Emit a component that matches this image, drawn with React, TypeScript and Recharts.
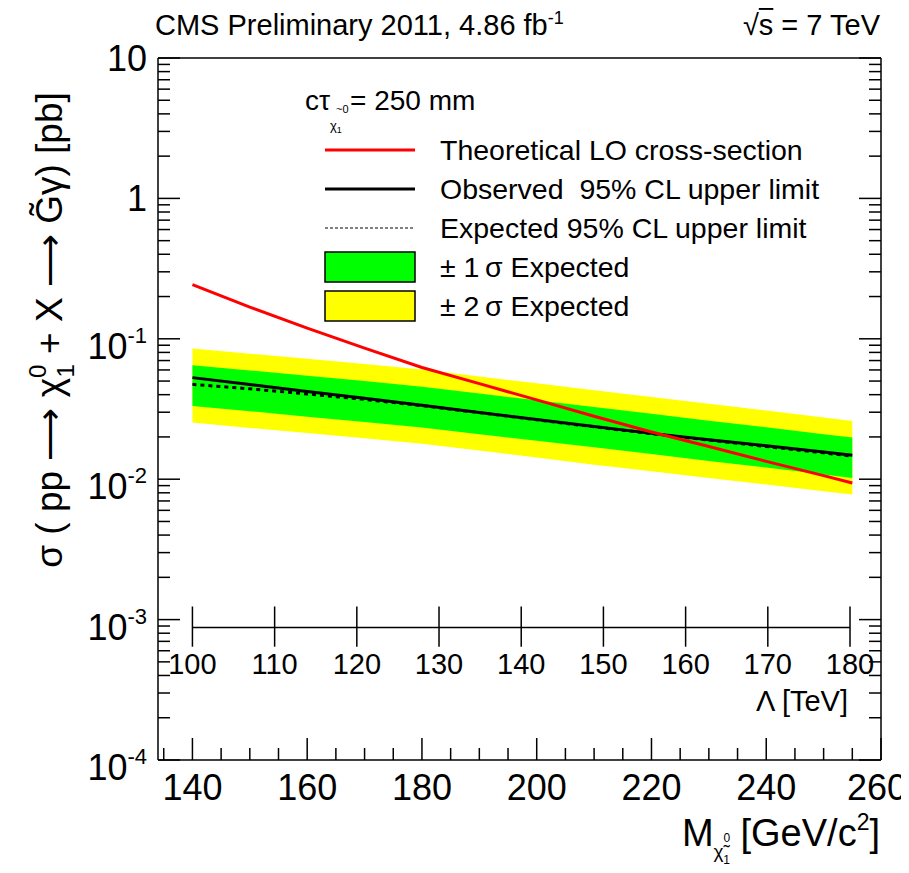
import React from "react";
import {
  ComposedChart, Area, Line, XAxis, YAxis, ReferenceLine, Legend,
} from "recharts";

// neutralino mass [GeV/c^2]
const massPoints = [140, 150, 160, 170, 180, 190, 200, 210, 220, 230, 240, 250, 255];
// cross sections [pb]
const theory = [0.243, 0.168, 0.119, 0.0859, 0.0625, 0.0479, 0.0367, 0.0281, 0.0217, 0.0171, 0.0134, 0.0106, 0.0094];
const observed = [0.0529, 0.0472, 0.0421, 0.0377, 0.0336, 0.0299, 0.0266, 0.0237, 0.0212, 0.0191, 0.0173, 0.0156, 0.0148];
const expected = [0.0474, 0.044, 0.0405, 0.037, 0.0334, 0.0298, 0.0265, 0.0236, 0.0211, 0.019, 0.0171, 0.0154, 0.0146];
const oneSigmaUp = [0.0649, 0.0595, 0.0545, 0.05, 0.0455, 0.0407, 0.0365, 0.0327, 0.0292, 0.0261, 0.0234, 0.0209, 0.0198];
const oneSigmaDown = [0.0332, 0.0305, 0.0279, 0.0255, 0.0233, 0.0209, 0.0188, 0.0169, 0.0151, 0.0135, 0.0121, 0.0108, 0.0102];
const twoSigmaUp = [0.0853, 0.0784, 0.072, 0.0662, 0.0604, 0.0539, 0.0482, 0.043, 0.0385, 0.0344, 0.0308, 0.0275, 0.026];
const twoSigmaDown = [0.0253, 0.0232, 0.0213, 0.0196, 0.0179, 0.016, 0.0143, 0.0127, 0.0114, 0.0102, 0.00916, 0.00822, 0.00778];

// axes
const xMajorTicks = [140, 160, 180, 200, 220, 240, 260];
const xMinorTicks = [135, 145, 150, 155, 165, 170, 175, 185, 190, 195, 205, 210, 215, 225, 230, 235, 245, 250, 255];
const yDecades = [1e-4, 1e-3, 1e-2, 1e-1, 1, 10];
const yMinorSteps = [2, 3, 4, 5, 6, 7, 8, 9];
const lambdaTicks = [100, 110, 120, 130, 140, 150, 160, 170, 180];
// Lambda [TeV] -> neutralino mass [GeV/c^2]: 100 TeV sits at 140, 180 TeV at 254.6
const lambdaToMass = (l: number) => 140 + ((l - 100) * (254.6 - 140)) / 80;

const LEGEND_ENTRIES = [
  { label: "Theoretical LO cross-section", kind: "line", color: "#ff0000", width: 3, dash: "" },
  { label: "Observed  95% CL upper limit", kind: "line", color: "#000000", width: 3, dash: "" },
  { label: "Expected 95% CL upper limit", kind: "line", color: "#000000", width: 1, dash: "3 2" },
  { label: "\u00b1 1\u2009\u03c3 Expected", kind: "box", color: "#00ff00" },
  { label: "\u00b1 2\u2009\u03c3 Expected", kind: "box", color: "#ffff00" },
];

const W = 893;
const H = 857;
const PLOT = { l: 150, t: 50, r: 873, b: 752 };
const FONT = '"Liberation Sans", Arial, Helvetica, sans-serif';
const LAMBDA_Y = 8.77e-4;
const LAMBDA_TICK_TOP = 1.24e-3;
const LAMBDA_TICK_BOT = 6.41e-4;

const data = massPoints.map((m, i) => ({
  m,
  theory: theory[i],
  observed: observed[i],
  expected: expected[i],
  band1: [oneSigmaDown[i], oneSigmaUp[i]],
  band2: [twoSigmaDown[i], twoSigmaUp[i]],
}));

const yTicks = [
  ...yDecades,
  ...yDecades.slice(0, -1).flatMap((d) => yMinorSteps.map((s) => +(d * s).toPrecision(3))),
].sort((a, b) => a - b);
const xTicks = [...xMajorTicks, ...xMinorTicks].sort((a, b) => a - b);

const isDecade = (v: number) => Math.abs(Math.log10(v) - Math.round(Math.log10(v))) < 1e-6;

function LeftTick(props: any) {
  const v = props.payload.value;
  const y = props.payload.coordinate;
  const major = isDecade(v);
  const exp = Math.round(Math.log10(v));
  return (
    <g>
      <line x1={PLOT.l} x2={PLOT.l + (major ? 22 : 12)} y1={y} y2={y} stroke="#000" strokeWidth={1.5} />
      {major && exp >= 0 && (
        <text x={139} y={y + 13} textAnchor="end" fontSize={36} fill="#000">
          {exp === 0 ? "1" : "10"}
        </text>
      )}
      {major && exp < 0 && (
        <text x={139} y={y + 20} textAnchor="end" fontSize={36} fill="#000">
          10<tspan fontSize={22} dy={-16}>{String(exp)}</tspan>
        </text>
      )}
    </g>
  );
}

function RightTick(props: any) {
  const y = props.payload.coordinate;
  const major = isDecade(props.payload.value);
  return <line x1={PLOT.r} x2={PLOT.r - (major ? 22 : 12)} y1={y} y2={y} stroke="#000" strokeWidth={1.5} />;
}

function BottomTick(props: any) {
  const x = props.payload.coordinate;
  const v = props.payload.value;
  const major = xMajorTicks.includes(v);
  return (
    <g>
      <line x1={x} x2={x} y1={PLOT.b} y2={PLOT.b - (major ? 22 : 12)} stroke="#000" strokeWidth={1.5} />
      {major && (
        <text x={v === 260 ? x - 4 : x} y={792} textAnchor="middle" fontSize={36} fill="#000">{v}</text>
      )}
    </g>
  );
}

function TopTick(props: any) {
  const x = props.payload.coordinate;
  const major = xMajorTicks.includes(props.payload.value);
  return <line x1={x} x2={x} y1={PLOT.t} y2={PLOT.t + (major ? 22 : 12)} stroke="#000" strokeWidth={1.5} />;
}

function LegendBox() {
  return (
    <svg width={560} height={260} fontFamily={FONT}>
      <text x={0} y={30} fontSize={28} fill="#000">{"c\u03c4"}</text>
      <text x={31} y={33} fontSize={11} fill="#000">~0</text>
      <text x={45} y={30} fontSize={28} fill="#000">= 250 mm</text>
      <text x={25} y={50} fontSize={13} fill="#000">
        {"\u03c7"}<tspan fontSize={9} dy={3}>1</tspan>
      </text>
      {LEGEND_ENTRIES.map((e, i) => {
        const cy = 70 + i * 39;
        return (
          <g key={e.label}>
            {e.kind === "line" ? (
              <line x1={20} x2={110} y1={cy} y2={cy} stroke={e.color} strokeWidth={e.width}
                strokeDasharray={e.dash || undefined} />
            ) : (
              <rect x={20} y={cy - 15} width={90} height={30} fill={e.color} stroke="#000" strokeWidth={1.5} />
            )}
            <text x={135} y={cy + 10} fontSize={28.5} fill="#000" style={{ whiteSpace: "pre" }}>{e.label}</text>
          </g>
        );
      })}
    </svg>
  );
}

export default function App() {
  return (
    <div style={{ position: "relative", width: W, height: H, fontFamily: FONT, background: "#fff" }}>
      <ComposedChart width={W} height={H} data={data}
        margin={{ top: 30, right: 10, bottom: 25, left: 10 }}>
        <XAxis xAxisId="bottom" dataKey="m" type="number" domain={[134, 260]} allowDataOverflow
          ticks={xTicks} interval={0} tick={(p: any) => <BottomTick {...p} />} tickLine={false}
          height={80} axisLine={{ stroke: "#000", strokeWidth: 1.5 }} />
        <XAxis xAxisId="top" orientation="top" type="number" domain={[134, 260]} allowDataOverflow
          ticks={xTicks} interval={0} tick={(p: any) => <TopTick {...p} />} tickLine={false}
          height={20} axisLine={{ stroke: "#000", strokeWidth: 1.5 }} />
        <YAxis yAxisId="left" scale="log" domain={[1e-4, 10]} allowDataOverflow
          ticks={yTicks} interval={0} tick={(p: any) => <LeftTick {...p} />} tickLine={false}
          width={140} axisLine={{ stroke: "#000", strokeWidth: 1.5 }} />
        <YAxis yAxisId="right" orientation="right" scale="log" domain={[1e-4, 10]} allowDataOverflow
          ticks={yTicks} interval={0} tick={(p: any) => <RightTick {...p} />} tickLine={false}
          width={10} axisLine={{ stroke: "#000", strokeWidth: 1.5 }} />

        <Area xAxisId="bottom" yAxisId="left" type="linear" dataKey="band2" stroke="none"
          fill="#ffff00" fillOpacity={1} isAnimationActive={false} />
        <Area xAxisId="bottom" yAxisId="left" type="linear" dataKey="band1" stroke="none"
          fill="#00ff00" fillOpacity={1} isAnimationActive={false} />
        <Line xAxisId="bottom" yAxisId="left" type="linear" dataKey="expected" stroke="#000"
          strokeWidth={3} strokeDasharray="4 4" dot={false} isAnimationActive={false} />
        <Line xAxisId="bottom" yAxisId="left" type="linear" dataKey="observed" stroke="#000"
          strokeWidth={3} dot={false} isAnimationActive={false} />
        <Line xAxisId="bottom" yAxisId="left" type="linear" dataKey="theory" stroke="#ff0000"
          strokeWidth={3} dot={false} isAnimationActive={false} />

        <ReferenceLine xAxisId="bottom" yAxisId="left" ifOverflow="visible"
          segment={[
            { x: lambdaToMass(lambdaTicks[0]), y: LAMBDA_Y },
            { x: lambdaToMass(lambdaTicks[lambdaTicks.length - 1]), y: LAMBDA_Y },
          ]}
          stroke="#000" strokeWidth={1.5} />
        {lambdaTicks.map((t) => (
          <ReferenceLine key={t} xAxisId="bottom" yAxisId="left" ifOverflow="visible"
            segment={[{ x: lambdaToMass(t), y: LAMBDA_TICK_TOP }, { x: lambdaToMass(t), y: LAMBDA_TICK_BOT }]}
            stroke="#000" strokeWidth={1.5}
            label={{ value: String(t), position: "bottom", offset: 7, fontSize: 29, fill: "#000" }} />
        ))}

        <Legend layout="horizontal" verticalAlign="middle" align="center"
          wrapperStyle={{ position: "absolute", left: 297, top: 72, width: 560, height: 260 }}
          content={() => <LegendBox />} />
      </ComposedChart>

      <svg width={W} height={H} style={{ position: "absolute", left: 0, top: 0, pointerEvents: "none" }}
        fontFamily={FONT}>
        <text x={147} y={27} fontSize={29} fill="#000">
          CMS Preliminary 2011, 4.86 fb<tspan fontSize={18} dy={-11}>-1</tspan>
        </text>
        <text x={872} y={27} fontSize={29} fill="#000" textAnchor="end">
          {"\u221a"}<tspan style={{ textDecoration: "overline" }}>s</tspan> = 7 TeV
        </text>
        <text transform="translate(54, 322) rotate(-90)" textAnchor="middle" fontSize={37} fill="#000"
          style={{ whiteSpace: "pre" }}>
          {"\u03c3 ( pp \u27f6 \u03c7"}
          <tspan fontSize={24} dy={-16}>0</tspan>
          <tspan fontSize={24} dx={-13} dy={28}>1</tspan>
          <tspan dy={-12}>{" + X \u27f6 G\u0303\u03b3) [pb]"}</tspan>
        </text>
        <text x={840} y={703} fontSize={29} fill="#000" textAnchor="end">{"\u039b [TeV]"}</text>
        <text x={872} y={838} fontSize={38} fill="#000" textAnchor="end">
          M<tspan fontSize={19} dy={12}>{"\u03c7\u0303"}</tspan>
          <tspan fontSize={12} dy={-16}>0</tspan>
          <tspan fontSize={12} dx={-7} dy={22}>1</tspan>
          <tspan fontSize={38} dy={-18}>{" [GeV/c"}</tspan>
          <tspan fontSize={23} dy={-16}>2</tspan>
          <tspan fontSize={38} dy={16}>]</tspan>
        </text>
      </svg>
    </div>
  );
}
